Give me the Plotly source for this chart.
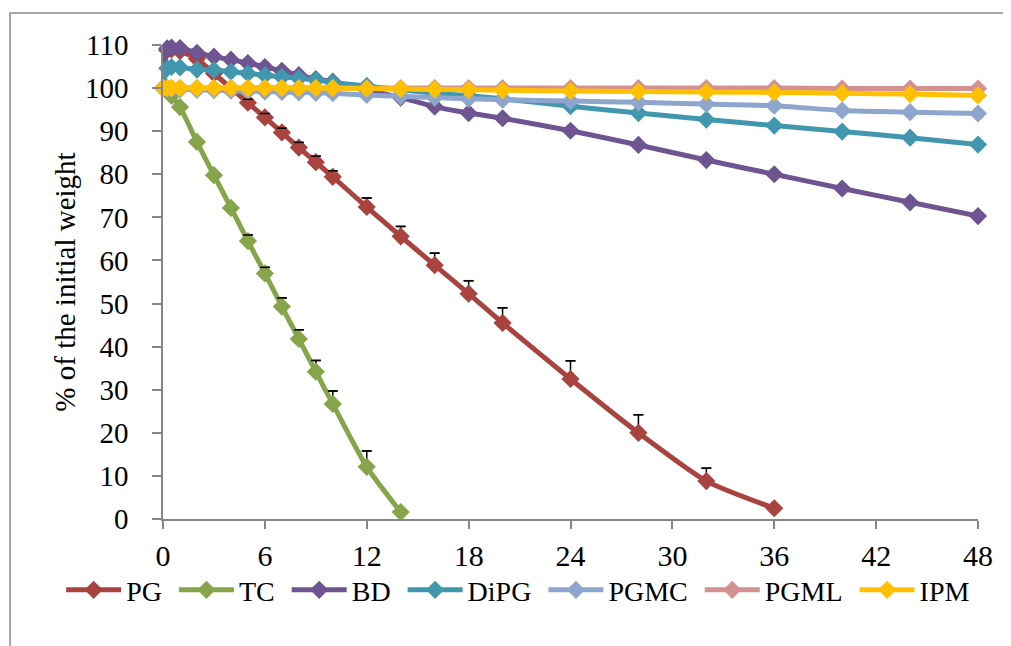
import plotly.graph_objects as go

# ---------------- data ----------------
times = [0, 0.25, 0.5, 1, 2, 3, 4, 5, 6, 7, 8, 9, 10, 12, 14, 16, 18, 20, 24, 28, 32, 36, 40, 44, 48]

pg = [100, 108.8, 109.0, 108.6, 106.8, 103.4, 100.0, 96.6, 93.2, 89.7, 86.2, 82.8, 79.4,
      72.4, 65.6, 58.9, 52.3, 45.5, 32.5, 20.0, 8.8, 2.5, None, None, None]
pg_err = [0, 0, 0, 0, 0, 0, 0, 0.8, 0.9, 1.0, 1.2, 1.4, 1.4,
          2.1, 2.3, 2.8, 3.0, 3.5, 4.2, 4.2, 3.0, 0, 0, 0, 0]

tc = [100, 99.3, 98.2, 95.6, 87.5, 79.8, 72.2, 64.5, 57.0, 49.3, 41.8, 34.2, 26.7,
      12.1, 1.6, None, None, None, None, None, None, None, None, None, None]
tc_err = [0, 0, 0, 0, 0, 0, 0, 1.4, 1.4, 2.0, 2.1, 2.6, 3.0,
          3.7, 0, 0, 0, 0, 0, 0, 0, 0, 0, 0, 0]

bd = [100, 109.2, 109.4, 109.3, 108.2, 107.3, 106.6, 105.8, 104.9, 104.0, 103.0, 102.1, 101.5,
      99.6, 97.8, 95.7, 94.2, 93.0, 90.1, 86.8, 83.3, 80.0, 76.7, 73.5, 70.3]

dipg = [100, 104.6, 104.9, 104.8, 104.3, 104.2, 103.8, 103.4, 103.0, 102.6, 102.3, 101.9, 101.3,
        100.5, 99.6, 98.8, 98.2, 97.5, 95.8, 94.2, 92.7, 91.3, 89.9, 88.5, 86.9]

pgmc = [100, 99.9, 99.8, 99.7, 99.6, 99.5, 99.4, 99.3, 99.2, 99.1, 99.0, 98.9, 98.8,
        98.4, 98.1, 97.8, 97.5, 97.3, 97.0, 96.7, 96.3, 95.9, 94.8, 94.4, 94.1]

pgml = [100, 100, 100, 100, 100, 100, 100, 100, 100, 100, 100, 100, 100,
        100, 100, 100, 100, 100, 100, 100, 100, 100, 99.9, 99.9, 99.9]

ipm = [100, 100, 100, 100, 100, 100, 100, 100, 100, 100, 100, 100, 100,
       99.9, 99.8, 99.7, 99.6, 99.5, 99.3, 99.2, 99.1, 99.0, 98.8, 98.6, 98.3]

series_names = ["PG", "TC", "BD", "DiPG", "PGMC", "PGML", "IPM"]
series_values = [pg, tc, bd, dipg, pgmc, pgml, ipm]
series_errors = [pg_err, tc_err, None, None, None, None, None]
colors = ["#A8433F", "#86A44A", "#6E5490", "#4197AE", "#8EA6CD", "#D3918F", "#FFC000"]

x_ticks = [0, 6, 12, 18, 24, 30, 36, 42, 48]
y_ticks = [0, 10, 20, 30, 40, 50, 60, 70, 80, 90, 100, 110]

FONT = "Liberation Serif, Times New Roman, serif"
AXIS_COLOR = "#868686"
NBSP = "\u00a0"

fig = go.Figure()

for name, vals, errs, col in zip(series_names, series_values, series_errors, colors):
    kw = {}
    if errs is not None:
        kw["error_y"] = dict(type="data", symmetric=False, array=errs,
                             arrayminus=[0] * len(errs), color="black",
                             thickness=1.5, width=5)
    fig.add_trace(go.Scatter(
        x=times, y=vals, name=name + NBSP, mode="lines+markers",
        line=dict(color=col, width=5, shape="spline", smoothing=0.6),
        marker=dict(symbol="diamond", size=14, color=col),
        cliponaxis=False, connectgaps=False, **kw))

# error bar caps drawn on top of the markers
for vals, errs in ((pg, pg_err), (tc, tc_err)):
    cap_y = [(v + e) if (v is not None and e > 0) else None for v, e in zip(vals, errs)]
    fig.add_trace(go.Scatter(
        x=times, y=cap_y, mode="markers", showlegend=False, hoverinfo="skip",
        marker=dict(symbol="line-ew", size=7, color="black",
                    line=dict(color="black", width=1.5)),
        cliponaxis=False))

# the page adds an 8px body margin, so the figure is 8px smaller than the window
fig.update_layout(
    width=1003, height=638,
    margin=dict(l=155, r=33, t=37, b=127),
    paper_bgcolor="white", plot_bgcolor="white",
    font=dict(family=FONT, color="black", size=30),
    showlegend=True,
    legend=dict(orientation="h", x=-0.125, xanchor="left", y=-0.15, yanchor="middle",
                font=dict(family=FONT, size=28, color="black"),
                bgcolor="rgba(0,0,0,0)", itemwidth=55, traceorder="normal"),
    xaxis=dict(range=[0, 48], tickmode="array", tickvals=x_ticks,
               ticktext=[str(v) for v in x_ticks],
               showgrid=False, zeroline=False, showline=True,
               linecolor=AXIS_COLOR, linewidth=1.5,
               ticks="outside", ticklen=8, tickwidth=1.5, tickcolor=AXIS_COLOR,
               tickfont=dict(family=FONT, size=30, color="black"),
               ticklabelstandoff=1),
    yaxis=dict(range=[0, 110], tickmode="array", tickvals=y_ticks,
               ticktext=[str(v) for v in y_ticks],
               showgrid=False, zeroline=False, showline=True,
               linecolor=AXIS_COLOR, linewidth=1.5,
               ticks="outside", ticklen=9, tickwidth=1.5, tickcolor=AXIS_COLOR,
               tickfont=dict(family=FONT, size=29, color="black"),
               ticklabelstandoff=18,
               title=dict(text="% of the initial weight",
                          font=dict(family=FONT, size=29, color="black"),
                          standoff=1)),
    shapes=[dict(type="rect", xref="paper", yref="paper",
                 x0=-0.1877, x1=1.06, y0=-0.32, y1=1.0675,
                 line=dict(color="#8a8a8a", width=1.5), fillcolor="rgba(0,0,0,0)",
                 layer="below")],
)

fig.write_html("out.html")
